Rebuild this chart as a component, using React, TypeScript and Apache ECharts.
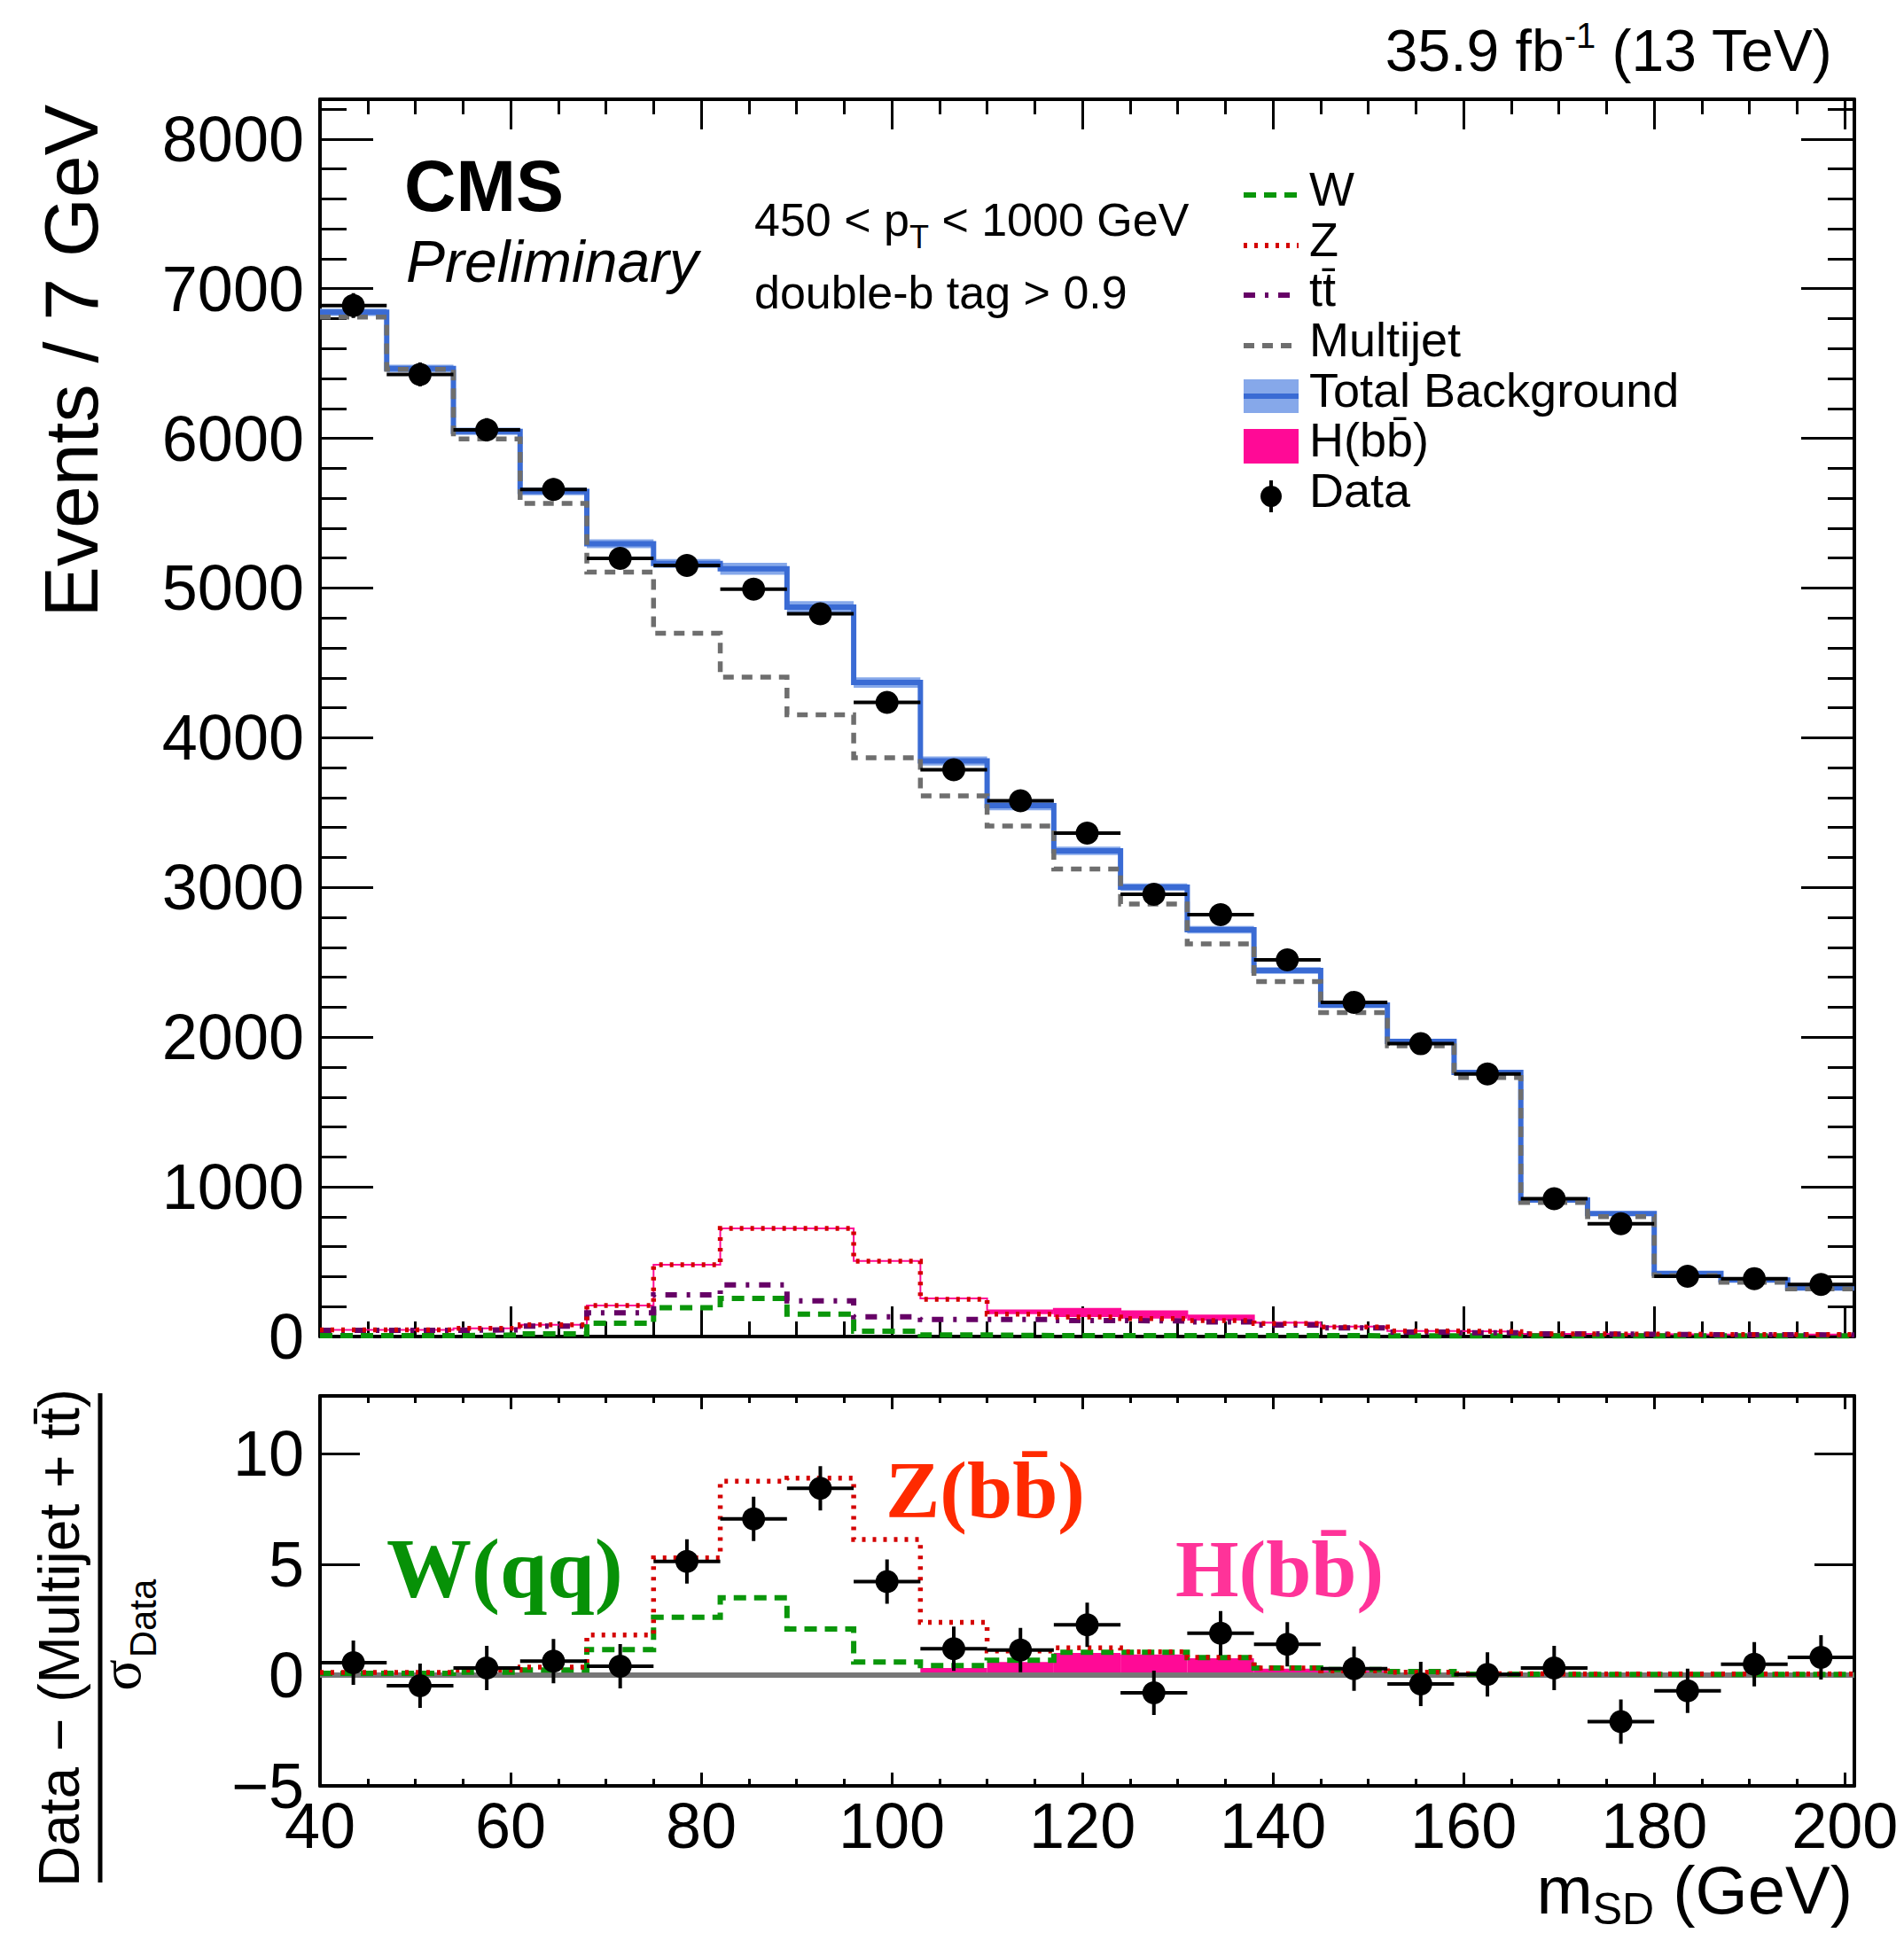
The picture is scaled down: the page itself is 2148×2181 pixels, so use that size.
import React, { useEffect, useRef } from 'react';
import * as echarts from 'echarts';

// ---------------- data ----------------
const binEdges = [40, 47, 54, 61, 68, 75, 82, 89, 96, 103, 110, 117, 124, 131, 138, 145, 152, 159, 166, 173, 180, 187, 194, 201];
const binCenters = [43.5, 50.5, 57.5, 64.5, 71.5, 78.5, 85.5, 92.5, 99.5, 106.5, 113.5, 120.5, 127.5, 134.5, 141.5, 148.5, 155.5, 162.5, 169.5, 176.5, 183.5, 190.5, 197.5];

const totalBkg = [6842, 6467, 6047, 5645, 5296, 5164, 5129, 4873, 4369, 3845, 3546, 3244, 3002, 2718, 2445, 2214, 1972, 1764, 912, 821, 422, 377, 324];
const totalBkgUnc = [25, 25, 25, 25, 30, 30, 40, 40, 35, 30, 30, 28, 25, 25, 22, 20, 18, 16, 10, 10, 6, 6, 6];
const multijet = [6810, 6460, 5996, 5565, 5106, 4698, 4405, 4153, 3866, 3612, 3410, 3123, 2889, 2623, 2371, 2164, 1942, 1731, 896, 801, 407, 363, 318];
const wBkg = [6, 6, 10, 18, 89, 193, 255, 150, 35, 10, 6, 6, 6, 6, 6, 5, 5, 5, 5, 5, 5, 5, 5];
const zBkg = [45, 45, 55, 79, 207, 479, 722, 722, 503, 249, 150, 130, 120, 107, 87, 63, 37, 33, 18, 16, 14, 14, 14];
const ttBkg = [41, 41, 45, 69, 158, 278, 345, 239, 132, 114, 114, 107, 104, 97, 77, 57, 30, 25, 18, 15, 12, 12, 10];
const hSig = [0, 0, 0, 0, 0, 0, 0, 0, 2, 5, 24, 55, 48, 33, 6, 3, 0, 0, 0, 0, 0, 0, 0];
const dataVals = [6887, 6427, 6057, 5658, 5198, 5151, 4992, 4828, 4236, 3786, 3579, 3363, 2954, 2818, 2516, 2232, 1956, 1754, 920, 754, 403, 387, 348];
const dataErr = [83, 80, 78, 75, 72, 72, 71, 69, 65, 62, 60, 58, 54, 53, 50, 47, 44, 42, 30, 27, 20, 20, 19];

const ratioData = [0.56, -0.48, 0.32, 0.63, 0.40, 5.13, 7.05, 8.43, 4.22, 1.19, 1.13, 2.27, -0.80, 1.89, 1.39, 0.29, -0.40, 0.03, 0.32, -2.10, -0.71, 0.49, 0.80];
const ratioErr = [1, 1, 1, 1, 1, 1, 1, 1, 1, 1, 1, 1, 1, 1, 1, 1, 1, 1, 1, 1, 1, 1, 1];
const ratioW = [0.08, 0.08, 0.13, 0.23, 1.15, 2.61, 3.49, 2.08, 0.59, 0.43, 0.67, 1.03, 1.03, 0.79, 0.32, 0.25, 0.16, 0.04, 0.03, 0.03, 0.03, 0.03, 0.03];
const ratioZ = [0.12, 0.12, 0.23, 0.36, 1.81, 5.29, 8.75, 8.89, 6.12, 2.38, 1.09, 1.23, 1.05, 0.80, 0.32, 0.19, 0.13, 0.06, 0.05, 0.05, 0.05, 0.05, 0.05];
const ratioH = [0, 0, 0, 0, 0, 0, 0, 0, 0.1, 0.32, 0.59, 1.0, 0.93, 0.76, 0.29, 0.19, 0, 0, 0, 0, 0, 0, 0];

const mainYTicks = [0, 1000, 2000, 3000, 4000, 5000, 6000, 7000, 8000];
const ratioYTicks = [-5, 0, 5, 10];
const xTicks = [40, 60, 80, 100, 120, 140, 160, 180, 200];

// ---------------- styles ----------------
const SANS = '"Liberation Sans", Arial, Helvetica, sans-serif';
const SERIF = '"Liberation Serif", "Times New Roman", serif';
const C_W = '#0a960a';
const C_Z = '#d40000';
const C_TT = '#660066';
const C_QCD = '#6e6e6e';
const C_TOT = '#3a6bd4';
const C_BAND = '#86a8ea';
const C_H = '#ff0a96';

const DASH_W = [14, 9];
const DASH_Z = [4, 8];
const DASH_TT = [13, 11, 4, 11];
const DASH_QCD = [12, 9];

function stepPts(vals: number[]) {
  return binEdges.map((e, i) => [e, vals[Math.min(i, vals.length - 1)]]);
}

let measureCtx: CanvasRenderingContext2D | null = null;
function measure(text: string, font: string) {
  if (!measureCtx) measureCtx = document.createElement('canvas').getContext('2d');
  measureCtx!.font = font;
  return measureCtx!.measureText(text).width;
}

type Piece = { t: string; size: number; dy?: number; weight?: string; fstyle?: string; family?: string; color?: string };
function fontOf(p: Piece) {
  return `${p.fstyle || 'normal'} ${p.weight || 'normal'} ${p.size}px ${p.family || SANS}`;
}
function run(pieces: Piece[], x: number, baseline: number, anchor: 'left' | 'right' = 'left') {
  const widths = pieces.map((p) => measure(p.t, fontOf(p)));
  const total = widths.reduce((a, b) => a + b, 0);
  let cur = anchor === 'right' ? x - total : x;
  return pieces.map((p, i) => {
    const el = {
      type: 'text',
      x: cur,
      y: baseline + (p.dy || 0) - 0.35 * p.size,
      silent: true,
      style: {
        text: p.t,
        font: fontOf(p),
        fill: p.color || '#000',
        align: 'left',
        verticalAlign: 'middle',
        textAlign: 'left',
        textVerticalAlign: 'middle',
      },
    };
    cur += widths[i];
    return el;
  });
}

function xAxisDef(grid: number, pos: 'top' | 'bottom', interval: number, len: number, major: boolean, labels: boolean) {
  return {
    type: 'value',
    gridIndex: grid,
    position: pos,
    min: 40,
    max: 201,
    interval,
    axisLine: { show: major, onZero: false, lineStyle: { color: '#000', width: 4 } },
    axisTick: { show: true, inside: true, length: len, lineStyle: { color: '#000', width: 3 } },
    axisLabel: labels
      ? {
          show: true,
          margin: 15,
          fontSize: 72,
          lineHeight: 60,
          fontFamily: SANS,
          color: '#000',
          showMaxLabel: false,
          formatter: (v: number) => (xTicks.indexOf(v) >= 0 ? String(v) : ''),
        }
      : { show: false },
    splitLine: { show: false },
    minorTick: { show: false },
  };
}

function yAxisDef(grid: number, pos: 'left' | 'right', min: number, max: number, interval: number, len: number, major: boolean, labels: ((v: number) => string) | null) {
  return {
    type: 'value',
    gridIndex: grid,
    position: pos,
    min,
    max,
    interval,
    axisLine: { show: major, onZero: false, lineStyle: { color: '#000', width: 4 } },
    axisTick: { show: true, inside: true, length: len, lineStyle: { color: '#000', width: 3 } },
    axisLabel: labels
      ? {
          show: true,
          margin: 18,
          fontSize: 72,
          lineHeight: 28,
          fontFamily: SANS,
          color: '#000',
          showMaxLabel: false,
          formatter: labels,
        }
      : { show: false },
    splitLine: { show: false },
  };
}

function bandSeries(name: string, xi: number, yi: number, data: number[][], color: string, z: number) {
  return {
    name,
    type: 'custom',
    xAxisIndex: xi,
    yAxisIndex: yi,
    clip: true,
    z,
    silent: true,
    encode: { x: [0, 1], y: [2, 3] },
    data,
    renderItem: (params: any, api: any) => {
      const x0 = api.value(0);
      const x1 = api.value(1);
      const lo = api.value(2);
      const hi = api.value(3);
      if (hi - lo <= 0) return null;
      const p1 = api.coord([x0, hi]);
      const p2 = api.coord([x1, lo]);
      return {
        type: 'rect',
        shape: { x: p1[0], y: p1[1], width: p2[0] - p1[0], height: p2[1] - p1[1] },
        style: { fill: color, stroke: null },
      };
    },
  };
}

function errSeries(name: string, xi: number, yi: number, vals: number[], errs: number[], z: number) {
  return {
    name,
    type: 'custom',
    xAxisIndex: xi,
    yAxisIndex: yi,
    clip: true,
    z,
    silent: true,
    encode: { x: 0, y: 1 },
    data: binCenters.map((c, i) => [c, vals[i], errs[i], binEdges[i], binEdges[i + 1]]),
    renderItem: (params: any, api: any) => {
      const xc = api.value(0);
      const y = api.value(1);
      const e = api.value(2);
      const pL = api.coord([api.value(3), y]);
      const pR = api.coord([api.value(4), y]);
      const pT = api.coord([xc, y + e]);
      const pB = api.coord([xc, y - e]);
      return {
        type: 'group',
        children: [
          { type: 'line', shape: { x1: pL[0], y1: pL[1], x2: pR[0], y2: pR[1] }, style: { stroke: '#000', lineWidth: 4 } },
          { type: 'line', shape: { x1: pT[0], y1: pT[1], x2: pB[0], y2: pB[1] }, style: { stroke: '#000', lineWidth: 4 } },
        ],
      };
    },
  };
}

function stepLine(name: string, xi: number, yi: number, vals: number[], color: string, width: number, dash: number[] | 'solid', z: number) {
  return {
    name,
    type: 'line',
    xAxisIndex: xi,
    yAxisIndex: yi,
    step: 'end',
    showSymbol: false,
    symbol: 'none',
    clip: true,
    z,
    silent: true,
    data: stepPts(vals),
    lineStyle: { color, width, type: dash, cap: 'butt', join: 'miter', opacity: 1 },
  };
}

function dotSeries(name: string, xi: number, yi: number, vals: number[], z: number) {
  return {
    name,
    type: 'scatter',
    xAxisIndex: xi,
    yAxisIndex: yi,
    z,
    silent: true,
    symbol: 'circle',
    symbolSize: 26,
    itemStyle: { color: '#000000', opacity: 1 },
    emphasis: { disabled: true },
    data: binCenters.map((c, i) => [c, vals[i]]),
  };
}

function buildOption() {
  const zPlusH = zBkg.map((v, i) => v + hSig[i]);

  const series: any[] = [
    // main panel
    bandSeries('Total Background unc', 0, 0, binEdges.slice(0, -1).map((e, i) => [e, binEdges[i + 1], totalBkg[i] - totalBkgUnc[i], totalBkg[i] + totalBkgUnc[i]]), C_BAND, 1),
    bandSeries('H(bb) main', 0, 0, binEdges.slice(0, -1).map((e, i) => [e, binEdges[i + 1], zBkg[i], zPlusH[i]]), C_H, 2),
    stepLine('H line', 0, 0, zPlusH, C_H, 2, 'solid', 3),
    stepLine('W', 0, 0, wBkg, C_W, 6, DASH_W, 4),
    stepLine('tt', 0, 0, ttBkg, C_TT, 6, DASH_TT, 5),
    stepLine('Z', 0, 0, zBkg, C_Z, 5.5, DASH_Z, 6),
    stepLine('Total Background', 0, 0, totalBkg, C_TOT, 6, 'solid', 7),
    stepLine('Multijet', 0, 0, multijet, C_QCD, 5.5, DASH_QCD, 8),
    errSeries('Data err', 0, 0, dataVals, dataErr, 9),
    dotSeries('Data', 0, 0, dataVals, 10),
    // ratio panel
    bandSeries('H ratio', 4, 4, binEdges.slice(0, -1).map((e, i) => [e, binEdges[i + 1], 0, ratioH[i]]), C_H, 1),
    {
      name: 'zero',
      type: 'line',
      xAxisIndex: 4,
      yAxisIndex: 4,
      showSymbol: false,
      symbol: 'none',
      z: 2,
      silent: true,
      data: [[40, 0], [201, 0]],
      lineStyle: { color: '#777777', width: 6 },
    },
    stepLine('W ratio', 4, 4, ratioW, C_W, 6, DASH_W, 3),
    stepLine('Z ratio', 4, 4, ratioZ, C_Z, 5.5, DASH_Z, 4),
    errSeries('Ratio err', 4, 4, ratioData, ratioErr, 9),
    dotSeries('Ratio data', 4, 4, ratioData, 10),
  ];

  // ---------- graphic: texts & legend ----------
  const g: any[] = [];
  // lumi
  g.push(
    ...run(
      [
        { t: '35.9 fb', size: 66 },
        { t: '-1', size: 40, dy: -26 },
        { t: ' (13 TeV)', size: 66 },
      ],
      2068,
      80,
      'right'
    )
  );
  // CMS Preliminary
  g.push(...run([{ t: 'CMS', size: 81, weight: 'bold' }], 456, 238));
  g.push(...run([{ t: 'Preliminary', size: 66, fstyle: 'italic' }], 458, 318));
  // selection
  g.push(
    ...run(
      [
        { t: '450 < p', size: 52 },
        { t: 'T', size: 36, dy: 14 },
        { t: ' < 1000 GeV', size: 52 },
      ],
      851,
      266
    )
  );
  g.push(...run([{ t: 'double-b tag > 0.9', size: 52 }], 851, 348));

  // legend
  const legRows = [220, 277, 333, 390, 447, 503, 560];
  const legNames = ['W', 'Z', 'tt\u0304', 'Multijet', 'Total Background', 'H(bb\u0304)', 'Data'];
  const lx0 = 1403;
  const lx1 = 1465;
  const legLine = (y: number, color: string, dash: number[]) => ({
    type: 'line',
    silent: true,
    shape: { x1: lx0, y1: y, x2: lx1, y2: y },
    style: { stroke: color, lineWidth: 6, lineDash: dash },
  });
  g.push(legLine(legRows[0], C_W, DASH_W));
  g.push(legLine(legRows[1], C_Z, DASH_Z));
  g.push(legLine(legRows[2], C_TT, DASH_TT));
  g.push(legLine(legRows[3], C_QCD, DASH_QCD));
  g.push({ type: 'rect', silent: true, shape: { x: lx0, y: legRows[4] - 19, width: lx1 - lx0, height: 38 }, style: { fill: C_BAND } });
  g.push({ type: 'line', silent: true, shape: { x1: lx0, y1: legRows[4], x2: lx1, y2: legRows[4] }, style: { stroke: C_TOT, lineWidth: 6 } });
  g.push({ type: 'rect', silent: true, shape: { x: lx0, y: legRows[5] - 19, width: lx1 - lx0, height: 39 }, style: { fill: C_H } });
  g.push({ type: 'line', silent: true, shape: { x1: 1434, y1: legRows[6] - 18, x2: 1434, y2: legRows[6] + 18 }, style: { stroke: '#000', lineWidth: 4 } });
  g.push({ type: 'circle', silent: true, shape: { cx: 1434, cy: legRows[6], r: 12 }, style: { fill: '#000' } });
  legNames.forEach((n, i) => {
    g.push(...run([{ t: n, size: 54 }], 1477, legRows[i] + 12));
  });

  // y title main
  g.push({
    type: 'text',
    silent: true,
    x: 80,
    y: 118,
    rotation: Math.PI / 2,
    style: { text: 'Events / 7 GeV', font: `normal normal 86px ${SANS}`, fill: '#000', align: 'right', verticalAlign: 'middle', textAlign: 'right', textVerticalAlign: 'middle' },
  });
  // ratio y title
  g.push({
    type: 'text',
    silent: true,
    x: 67,
    y: 1848,
    rotation: Math.PI / 2,
    style: { text: 'Data \u2212 (Multijet + tt\u0304)', font: `normal normal 64px ${SANS}`, fill: '#000', align: 'center', verticalAlign: 'middle', textAlign: 'center', textVerticalAlign: 'middle' },
  });
  g.push({ type: 'line', silent: true, shape: { x1: 113, y1: 1572, x2: 113, y2: 2124 }, style: { stroke: '#000', lineWidth: 5 } });
  g.push({
    type: 'text',
    silent: true,
    x: 135,
    y: 1890,
    rotation: Math.PI / 2,
    style: { text: '\u03c3', font: `normal normal 66px ${SERIF}`, fill: '#000', align: 'center', verticalAlign: 'middle', textAlign: 'center', textVerticalAlign: 'middle' },
  });
  g.push({
    type: 'text',
    silent: true,
    x: 161,
    y: 1826,
    rotation: Math.PI / 2,
    style: { text: 'Data', font: `normal normal 42px ${SANS}`, fill: '#000', align: 'center', verticalAlign: 'middle', textAlign: 'center', textVerticalAlign: 'middle' },
  });

  // x title
  g.push(
    ...run(
      [
        { t: 'm', size: 76 },
        { t: 'SD', size: 50, dy: 12 },
        { t: ' (GeV)', size: 76 },
      ],
      2090,
      2159,
      'right'
    )
  );

  // ratio annotations
  g.push(...run([{ t: 'W(qq)', size: 96, weight: 'bold', family: SERIF, color: '#079107' }], 436, 1803));
  g.push(...run([{ t: 'Z(bb\u0304)', size: 92, weight: 'bold', family: SERIF, color: '#ff2a00' }], 999, 1713));
  g.push(...run([{ t: 'H(bb\u0304)', size: 92, weight: 'bold', family: SERIF, color: '#ff3399' }], 1326, 1802));

  return {
    animation: false,
    backgroundColor: '#ffffff',
    grid: [
      { left: 361, top: 112, width: 1731, height: 1396, containLabel: false },
      { left: 361, top: 1575, width: 1731, height: 440, containLabel: false },
    ],
    xAxis: [
      xAxisDef(0, 'bottom', 20, 34, true, false),
      xAxisDef(0, 'bottom', 5, 17, false, false),
      xAxisDef(0, 'top', 20, 34, true, false),
      xAxisDef(0, 'top', 5, 17, false, false),
      xAxisDef(1, 'bottom', 20, 15, true, true),
      xAxisDef(1, 'bottom', 5, 8, false, false),
      xAxisDef(1, 'top', 20, 15, true, false),
      xAxisDef(1, 'top', 5, 8, false, false),
    ],
    yAxis: [
      yAxisDef(0, 'left', 0, 8265, 1000, 60, true, (v: number) => (mainYTicks.indexOf(v) >= 0 ? String(v) : '')),
      yAxisDef(0, 'left', 0, 8265, 200, 30, false, null),
      yAxisDef(0, 'right', 0, 8265, 1000, 60, true, null),
      yAxisDef(0, 'right', 0, 8265, 200, 30, false, null),
      yAxisDef(1, 'left', -5, 12.6, 5, 45, true, (v: number) => (ratioYTicks.indexOf(v) >= 0 ? (v < 0 ? '\u2212' + Math.abs(v) : String(v)) : '')),
      yAxisDef(1, 'right', -5, 12.6, 5, 45, true, null),
    ],
    series,
    graphic: { elements: g },
  };
}

export default function App() {
  const ref = useRef<HTMLDivElement>(null);
  useEffect(() => {
    if (!ref.current) return;
    const chart = echarts.init(ref.current, null, { renderer: 'svg' });
    chart.setOption(buildOption() as any);
    return () => {
      chart.dispose();
    };
  }, []);
  return (
    <div
      ref={ref}
      style={{ position: 'fixed', left: 0, top: 0, width: 2148, height: 2181, background: '#fff' }}
    />
  );
}
